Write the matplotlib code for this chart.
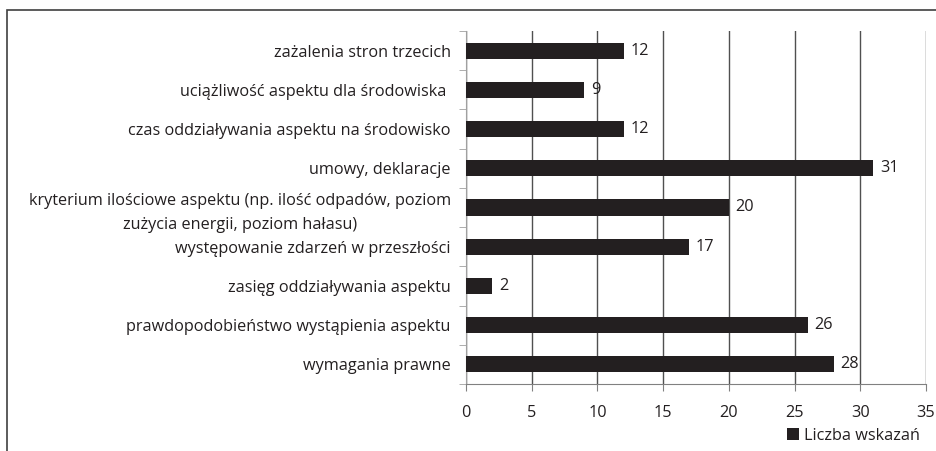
import matplotlib.pyplot as plt
import matplotlib.patches as patches

plt.rcParams['font.family'] = ['Open Sans', 'DejaVu Sans']

# data, bottom to top
categories = [
    "wymagania prawne",
    "prawdopodobieństwo wystąpienia aspektu",
    "zasięg oddziaływania aspektu",
    "występowanie zdarzeń w przeszłości",
    "kryterium ilościowe aspektu (np. ilość odpadów, poziom\nzużycia energii, poziom hałasu)",
    "umowy, deklaracje",
    "czas oddziaływania aspektu na środowisko",
    "uciążliwość aspektu dla środowiska ",
    "zażalenia stron trzecich",
]
values = [28, 26, 2, 17, 20, 31, 12, 9, 12]
xticks = [0, 5, 10, 15, 20, 25, 30, 35]
series_name = "Liczba wskazań"

FS = 11.7
TXT = '#231f20'

fig = plt.figure(figsize=(9.37, 4.51), dpi=100)
ax = fig.add_axes([0.4973, 0.1486, 0.4910, 0.7827])

# outer frame like the exported chart
fig.patches.append(patches.Rectangle((7/937, -0.01), 1.0, 1 - 10/451 + 0.01,
                                     transform=fig.transFigure, fill=False,
                                     edgecolor='#404040', linewidth=1.2))

ypos = list(range(len(categories)))
ax.barh(ypos, values, height=0.41, color=TXT, zorder=3, label=series_name)
for y, v in zip(ypos, values):
    ax.text(v + 0.5, y, str(v), va='center', ha='left', fontsize=FS,
            color=TXT, zorder=4)

ax.set_xlim(0, 35)
ax.set_ylim(-0.5, len(categories) - 0.5)
ax.set_xticks(xticks)
ax.set_yticks(ypos)
ax.set_yticklabels(categories, fontsize=FS, color=TXT,
                   multialignment='center', linespacing=1.6)
ax.set_yticks([i - 0.5 for i in range(len(categories) + 1)], minor=True)
ax.tick_params(axis='y', which='major', length=0, pad=11)
ax.tick_params(axis='y', which='minor', length=5, color='#a0a0a0')
ax.tick_params(axis='x', length=5, color='#808080', labelsize=FS,
               labelcolor=TXT, pad=10)
ax.xaxis.grid(True, color='#505050', linewidth=1.0, zorder=0)
for s in ['top', 'right']:
    ax.spines[s].set_visible(False)
ax.spines['left'].set_color('#a0a0a0')
ax.spines['bottom'].set_color('#808080')

ax.legend(loc='upper right', bbox_to_anchor=(1.0, -0.105), frameon=False,
          fontsize=FS, handlelength=0.75, handleheight=0.75, handletextpad=0.25,
          borderaxespad=0, labelcolor=TXT)

fig.savefig('out.png', dpi=100)
